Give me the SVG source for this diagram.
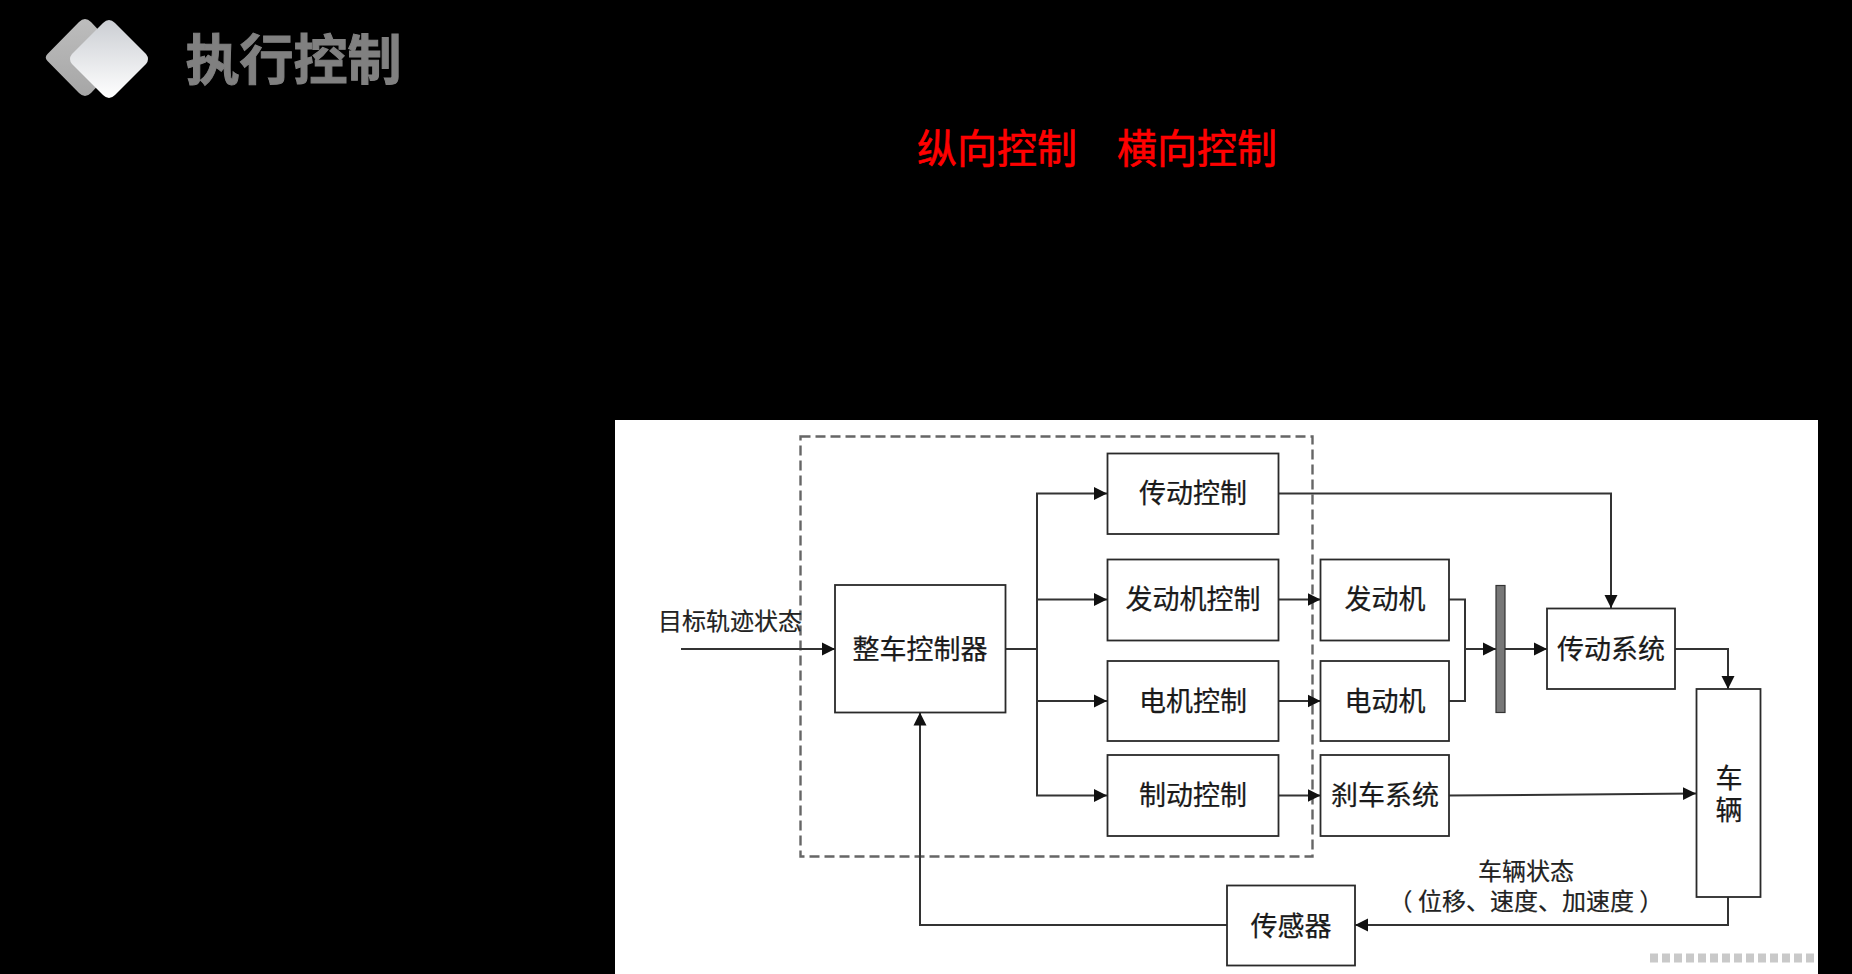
<svg xmlns="http://www.w3.org/2000/svg" width="1852" height="974" viewBox="0 0 1852 974">
<style>
text{font-family:"Noto Sans CJK SC","Noto Sans",sans-serif}
.n rect{fill:#fff;stroke:#2a2a2a;stroke-width:1.8}
.n text{font-size:27px;fill:#1a1a1a;text-anchor:middle;stroke:#1a1a1a;stroke-width:.25}
.l2{font-size:24px;fill:#222;text-anchor:middle;stroke:#222;stroke-width:.2}
.c path{fill:none;stroke:#333;stroke-width:2;marker-end:url(#a)}
.c path.p{marker-end:none}
.r{font-size:40px;fill:#f00;text-anchor:middle;stroke:#f00;stroke-width:.6}
</style>
<defs>
<marker id="a" markerUnits="userSpaceOnUse" markerWidth="14" markerHeight="14" refX="13" refY="7" orient="auto"><path d="M0 0.500L13 7L0 13.500Z" fill="#111"/></marker>
<linearGradient id="g1" x1="0" y1="0" x2="0" y2="1"><stop offset="0" stop-color="#cbced3"/><stop offset="1" stop-color="#fff"/></linearGradient>
<linearGradient id="g2" x1="0" y1="0" x2="0" y2="1"><stop offset="0" stop-color="#bdbdbd"/><stop offset="1" stop-color="#a6a6a6"/></linearGradient>
</defs>
<rect width="1852" height="974" fill="#000"/>
<g id="logo">
<path d="M85 19Q88 19 91 22L121 54Q124.500 57.500 121 61L91 93Q88 96 85 96Q82 96 79 93L47.500 61Q44 57.500 47.500 54L79 22Q82 19 85 19Z" fill="url(#g2)"/>
<path d="M109 20Q112 20 115 23L146 54Q150 59 146 64L115 95Q112 98 109 98Q106 98 103 95L72 64Q68 59 72 54L103 23Q106 20 109 20Z" fill="url(#g1)"/>
</g>
<text id="title" x="293.500" y="80" font-size="54" font-weight="700" fill="#808080" stroke="#808080" stroke-width="1" text-anchor="middle">执行控制</text>
<text id="t1" class="r" x="997" y="163">纵向控制</text>
<text id="t2" class="r" x="1197" y="163">横向控制</text>
<rect id="panel" x="615" y="420" width="1203" height="554" fill="#fff"/>
<g id="diagram" transform="translate(0 1)">
<rect id="dash" x="800.500" y="435.500" width="512" height="420" fill="none" stroke="#666" stroke-width="2.400" stroke-dasharray="10 5"/>
<g id="connectors" class="c">
<path d="M681 648H835"/>
<path class="p" d="M1005 648H1037"/>
<path d="M1037 648V492.500H1107"/>
<path d="M1037 598.500H1107"/>
<path d="M1037 648V700H1107"/>
<path d="M1037 700V794.500H1107"/>
<path d="M1279 492.500H1611V607"/>
<path d="M1279 598.500H1320.500"/>
<path d="M1279 700H1320.500"/>
<path d="M1279 794.500H1320.500"/>
<path class="p" d="M1449 598.500H1465V700H1449"/>
<path d="M1465 648H1496"/>
<path d="M1505 648H1547"/>
<path d="M1675 648H1728V688"/>
<path d="M1449 794.500L1696 792.500"/>
<path d="M1728 896V924H1355"/>
<path d="M1227 924H920V711.500"/>
</g>
<g id="vcu" class="n"><rect x="835" y="584" width="170.500" height="127.500"/><text x="920" y="657.500">整车控制器</text></g>
<g id="c1" class="n"><rect x="1107.500" y="452.500" width="171" height="80.500"/><text x="1193" y="502">传动控制</text></g>
<g id="c2" class="n"><rect x="1107.500" y="558.500" width="171" height="81"/><text x="1193" y="608">发动机控制</text></g>
<g id="c3" class="n"><rect x="1107.500" y="660" width="171" height="80"/><text x="1193" y="709.500">电机控制</text></g>
<g id="c4" class="n"><rect x="1107.500" y="754" width="171" height="81"/><text x="1193" y="804">制动控制</text></g>
<g id="engine" class="n"><rect x="1320.500" y="558.500" width="128.500" height="81"/><text x="1385" y="608">发动机</text></g>
<g id="motor" class="n"><rect x="1320.500" y="660" width="128.500" height="80"/><text x="1385" y="709.500">电动机</text></g>
<g id="brake" class="n"><rect x="1320.500" y="754" width="128.500" height="81"/><text x="1385" y="804">刹车系统</text></g>
<g id="bar"><rect x="1496" y="584.500" width="9" height="127" fill="#777" stroke="#333" stroke-width="1.200"/></g>
<g id="trans" class="n"><rect x="1547" y="607.500" width="128" height="80.500"/><text x="1611" y="657.500">传动系统</text></g>
<g id="vehicle" class="n"><rect x="1696.500" y="688" width="64" height="208"/><text x="1729" y="787">车</text><text x="1729" y="819">辆</text></g>
<g id="sensor" class="n"><rect x="1227" y="884.500" width="128" height="80"/><text x="1291" y="935">传感器</text></g>
<text class="l2" x="730" y="629">目标轨迹状态</text>
<text class="l2" x="1526" y="879">车辆状态</text>
<text class="l2" x="1526" y="909" xml:space="preserve">（ 位移、速度、加速度 ）</text>
</g>
<path id="mark" d="M1650 958H1816" fill="none" stroke="#777" stroke-opacity=".4" stroke-width="9" stroke-dasharray="8 4"/>
</svg>
